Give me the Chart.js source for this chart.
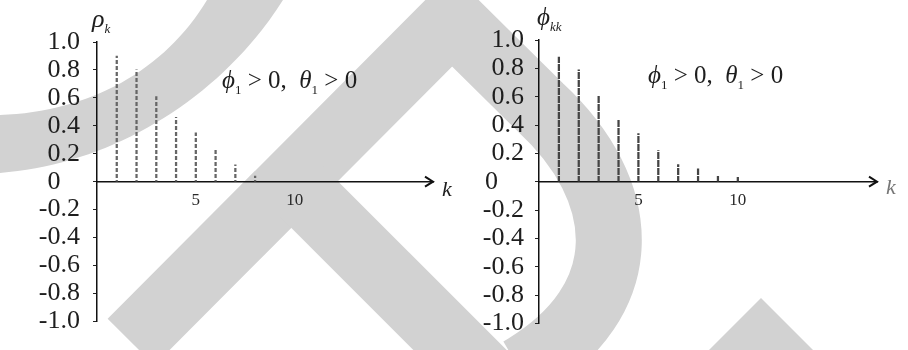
<!DOCTYPE html>
<html>
<head>
<meta charset="utf-8">
<script src="https://cdn.jsdelivr.net/npm/chart.js@4.4.0/dist/chart.umd.min.js"></script>
<style>
  body { margin: 0; background: #fff; }
  #wrap { position: relative; width: 908px; height: 350px; overflow: hidden; }
  #wrap svg, #wrap canvas { position: absolute; top: 0; }
  .lab { position: absolute; font-family: "Liberation Serif", serif; color: #1e1e1e; white-space: pre; line-height: 1; }
  .lab i { font-style: italic; }
  .lab .sb { font-size: 13px; position: relative; top: 6px; }
</style>
</head>
<body>
<div id="wrap">
  <!-- grey scan marks behind the plots -->
  <svg width="908" height="350" style="left:0">
    <g fill="#d2d2d2" stroke="none">
      <path d="M 283,0 C 220,100 110,165 0,173 L 0,115 C 90,112 165,70 207,0 Z"/>
      <path d="M 707,352 L 761,298 L 815,352 Z"/>
    </g>
    <g fill="none" stroke="#d2d2d2" stroke-width="66" stroke-linejoin="miter" stroke-miterlimit="10">
      <path d="M 131,342 L 452,20 L 540,107 C 630,190 640,300 520,370"/>
      <path d="M 300,190 L 490,380"/>
    </g>
  </svg>
  <canvas id="acfChart" width="454" height="350" style="left:0"></canvas>
  <canvas id="pacfChart" width="454" height="350" style="left:454px"></canvas>

  <div class="lab" style="left:92px;top:6px;font-size:26px"><i>ρ</i><span class="sb"><i>k</i></span></div>
  <div class="lab" style="left:537px;top:4px;font-size:25px"><i>ϕ</i><span class="sb"><i>kk</i></span></div>
  <div class="lab" style="left:222px;top:67px;font-size:25px"><i>ϕ</i><span class="sb">1</span> &gt; 0,  <i>θ</i><span class="sb">1</span> &gt; 0</div>
  <div class="lab" style="left:648px;top:62px;font-size:25px"><i>ϕ</i><span class="sb">1</span> &gt; 0,  <i>θ</i><span class="sb">1</span> &gt; 0</div>
  <div class="lab" style="left:442px;top:178px;font-size:22px"><i>k</i></div>
  <div class="lab" style="left:886px;top:176px;font-size:22px;color:#777"><i>k</i></div>
</div>

<script>
// values
const yTicks = [1.0, 0.8, 0.6, 0.4, 0.2, 0, -0.2, -0.4, -0.6, -0.8, -1.0];
const xTickLabels = [5, 10];

const acfLags = [1, 2, 3, 4, 5, 6, 7, 8];
const acfValues = [0.90, 0.80, 0.61, 0.46, 0.35, 0.23, 0.12, 0.04];

const pacfLags = [1, 2, 3, 4, 5, 6, 7, 8, 9, 10];
const pacfValues = [0.88, 0.79, 0.61, 0.44, 0.34, 0.22, 0.12, 0.09, 0.04, 0.03];

const lagMax = 17;
const serif = 'Liberation Serif';

// broken ink for the thin spikes
function dashPattern(on, off, color) {
    const c = document.createElement('canvas');
    c.width = 2;
    c.height = on + off;
    const g = c.getContext('2d');
    g.fillStyle = color;
    g.fillRect(0, 0, 2, on);
    return g.createPattern(c, 'repeat');
}

// open arrow head at the end of the lag axis
const arrowPlugin = {
    id: 'arrowHead',
    afterDraw(chart) {
        const ctx = chart.ctx;
        const xEnd = chart.scales.x.right;
        const y0 = chart.scales.y.getPixelForValue(0);
        ctx.save();
        ctx.strokeStyle = '#111';
        ctx.lineWidth = 2;
        ctx.beginPath();
        ctx.moveTo(xEnd - 8, y0 - 5);
        ctx.lineTo(xEnd, y0);
        ctx.lineTo(xEnd - 8, y0 + 5);
        ctx.stroke();
        ctx.restore();
    }
};

function makeChart(id, lags, values, axisLeft, zeroPad, labelGap, pad, spikes) {
    const ctx = document.getElementById(id).getContext('2d');
    return new Chart(ctx, {
        type: 'bar',
        data: {
            datasets: [{
                data: lags.map((k, i) => ({ x: k, y: values[i] })),
                backgroundColor: spikes,
                barThickness: 1.6
            }]
        },
        options: {
            responsive: false,
            animation: false,
            devicePixelRatio: 1,
            layout: { padding: pad },
            plugins: {
                legend: { display: false },
                tooltip: { enabled: false }
            },
            scales: {
                x: {
                    type: 'linear',
                    position: { y: 0 },
                    min: 0,
                    max: lagMax,
                    offset: false,
                    afterBuildTicks: s => { s.ticks = xTickLabels.map(v => ({ value: v })); },
                    grid: { display: false, drawTicks: false },
                    border: { display: true, color: '#111', width: 1.5 },
                    ticks: {
                        color: '#2a2a2a',
                        padding: 9,
                        font: { family: serif, size: 17 }
                    }
                },
                y: {
                    position: 'left',
                    min: -1,
                    max: 1,
                    afterBuildTicks: s => { s.ticks = yTicks.map(v => ({ value: v })); },
                    afterFit: s => { s.width = axisLeft; },
                    grid: { drawOnChartArea: false, tickLength: 4, color: '#222' },
                    border: { display: true, color: '#111', width: 1.5 },
                    ticks: {
                        autoSkip: false,
                        color: '#1e1e1e',
                        padding: labelGap,
                        font: { family: serif, size: 26 },
                        callback: v => v === 0 ? '0' + zeroPad : v.toFixed(1)
                    }
                }
            }
        },
        plugins: [arrowPlugin]
    });
}

makeChart('acfChart', acfLags, acfValues, 97, '   ', 13,
    { left: 0, right: 21, top: 42, bottom: 17 }, dashPattern(4, 2, '#666'));
makeChart('pacfChart', pacfLags, pacfValues, 85, '    ', 11,
    { left: 0, right: 31, top: 40, bottom: 17 }, dashPattern(7, 1, '#444'));
</script>
</body>
</html>
